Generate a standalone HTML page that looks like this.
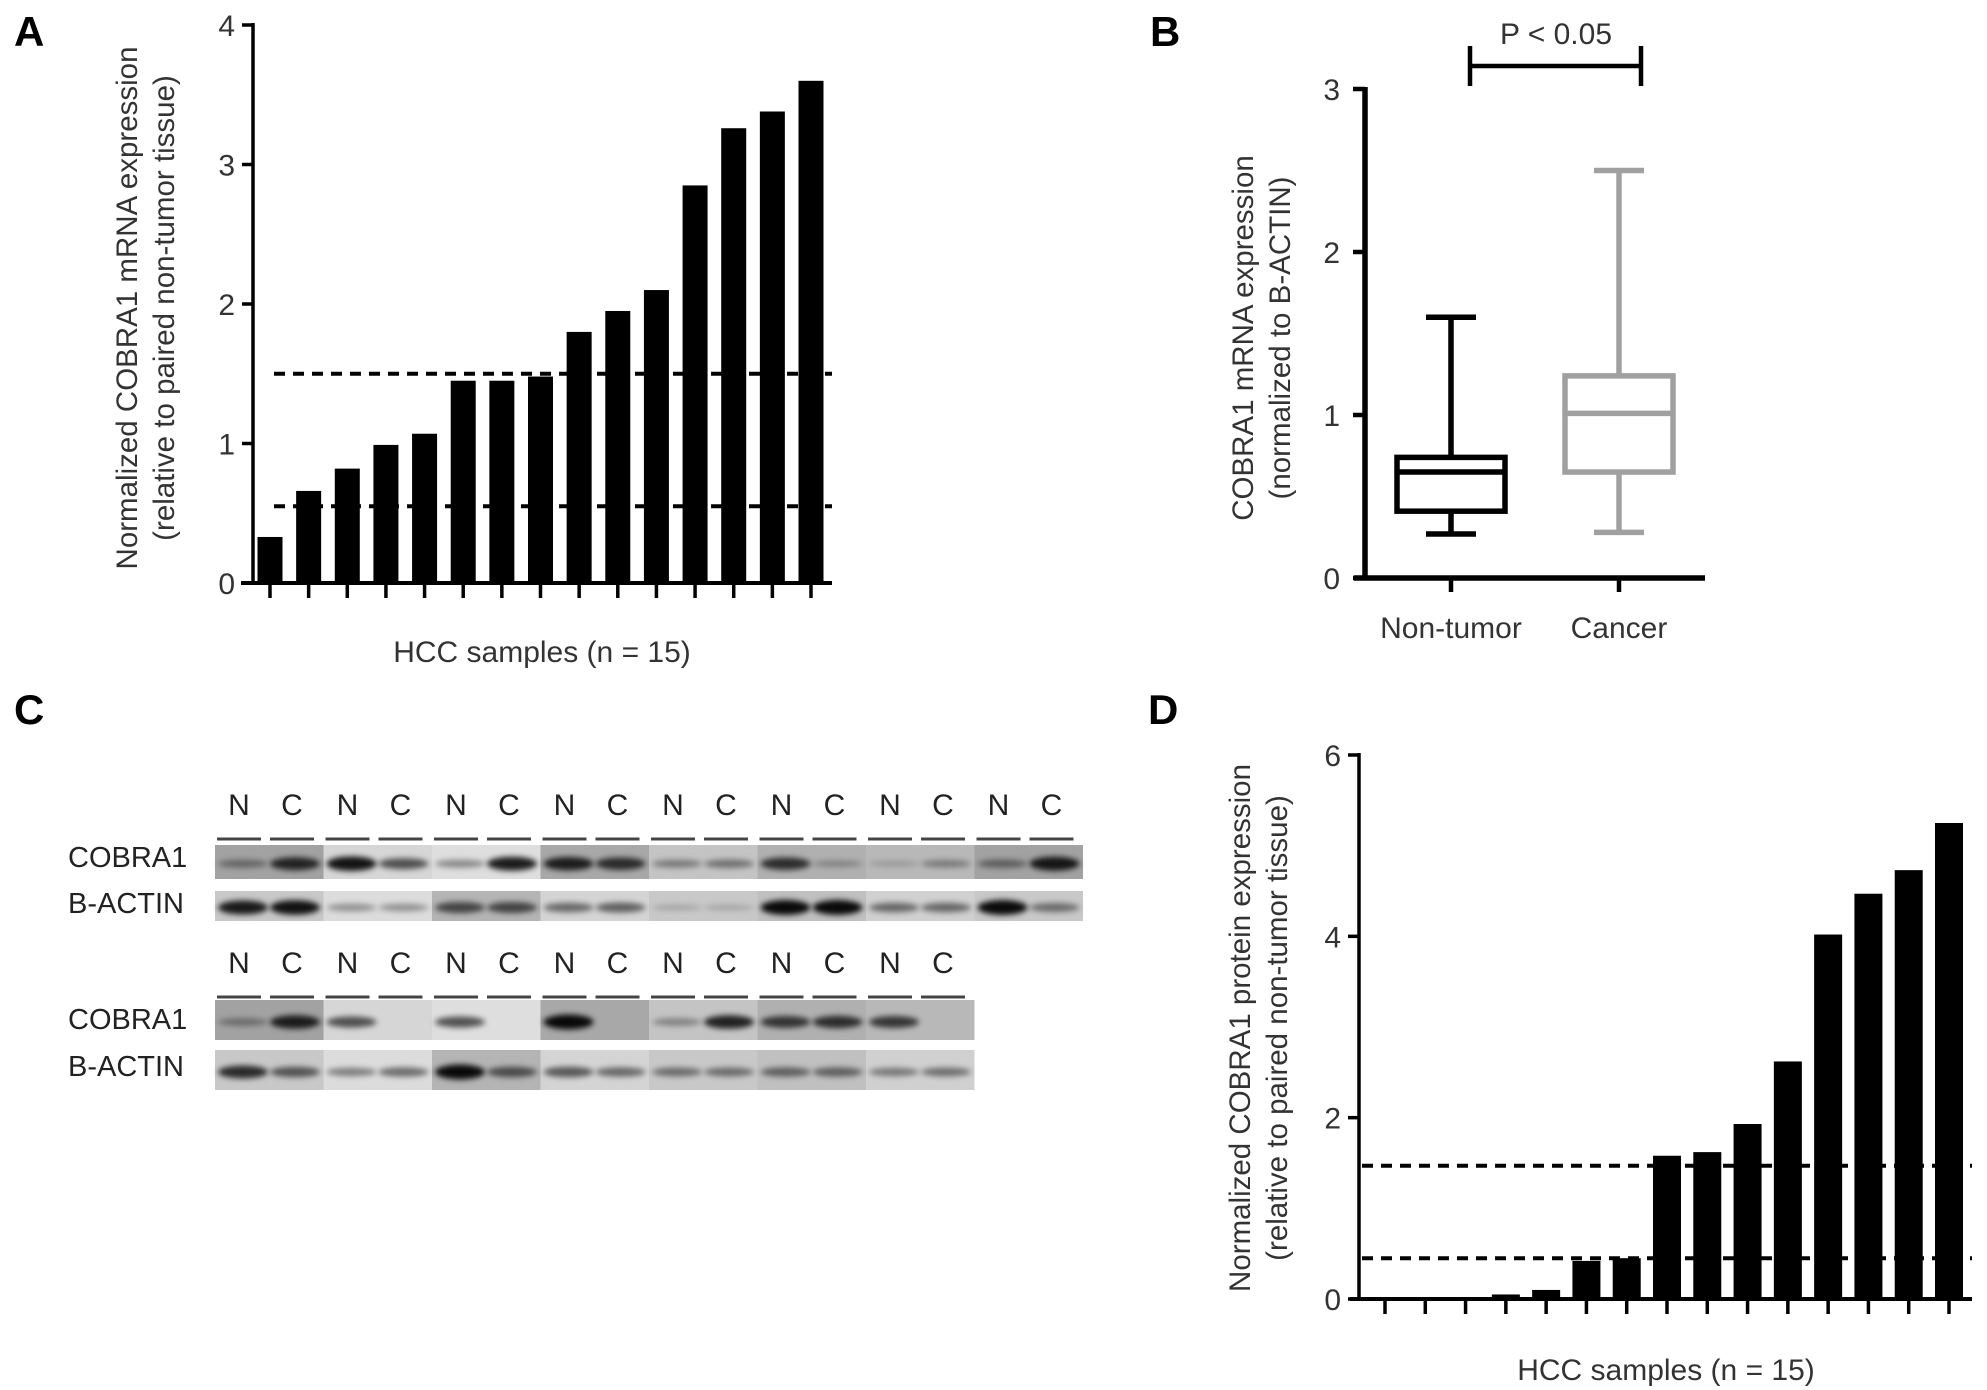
<!DOCTYPE html>
<html><head><meta charset="utf-8">
<style>
html,body{margin:0;padding:0;background:#fff;}
svg{display:block;font-family:"Liberation Sans",Arial,sans-serif;}
</style></head>
<body>
<svg id="fig" width="1987" height="1390" viewBox="0 0 1987 1390" xmlns="http://www.w3.org/2000/svg">
<defs>
<filter id="blur" x="-50%" y="-100%" width="200%" height="300%"><feGaussianBlur stdDeviation="3"/></filter>
</defs>
<g id="panelA"></g>
<g id="panelB"></g>
<g id="panelC"></g>
<g id="panelD"></g>
</svg>
<script>
// ---- data ----
const samplesA = [0.33,0.66,0.82,0.99,1.07,1.45,1.45,1.48,1.80,1.95,2.10,2.85,3.26,3.38,3.60];
const cutoffsA = [1.5,0.55];
const ticksA = [0,1,2,3,4];
const samplesD = [0.0,0.01,0.02,0.05,0.1,0.42,0.45,1.58,1.62,1.93,2.62,4.02,4.47,4.73,5.25];
const cutoffsD = [1.47,0.45];
const ticksD = [0,2,4,6];
const boxGroups = ["Non-tumor","Cancer"];
const boxMin = [0.27,0.28];
const boxQ1 = [0.41,0.65];
const boxMed = [0.65,1.01];
const boxQ3 = [0.74,1.24];
const boxMax = [1.6,2.5];
const ticksB = [0,1,2,3];
const blotR1Cobra = [0.3,0.8,0.95,0.6,0.3,0.9,0.85,0.75,0.3,0.35,0.75,0.15,0.05,0.25,0.35,0.9];
const blotR1Actin = [0.9,0.95,0.25,0.25,0.6,0.6,0.45,0.5,0.05,0.05,1,1,0.45,0.45,1,0.4];
const blotR2Cobra = [0.25,0.85,0.6,0.0,0.6,0.0,1,0.0,0.25,0.85,0.7,0.75,0.7,0.0];
const blotR2Actin = [0.8,0.55,0.35,0.45,1,0.55,0.55,0.45,0.4,0.4,0.45,0.45,0.35,0.4];
const bgR1Cobra = ["#a2a2a2","#d6d6d6","#dedede","#a8a8a8","#c4c4c4","#b0b0b0","#b8b8b8"];
const bgR1Actin = ["#c8c8c8","#dcdcdc","#b4b4b4","#d4d4d4","#c8c8c8","#c0c0c0","#d0d0d0"];

const NS="http://www.w3.org/2000/svg";
function mk(parent,tag,attrs,text){const e=document.createElementNS(NS,tag);for(const k in attrs)e.setAttribute(k,attrs[k]);if(text!==undefined)e.textContent=text;parent.appendChild(e);return e;}

function barChart(g, cfg, values, cutoffs, ticks){
  const y=v=>cfg.y0-(v/cfg.vmax)*(cfg.y0-cfg.ytop);
  const x=i=>cfg.x0b+i*(cfg.x1b-cfg.x0b)/(values.length-1);
  values.forEach((v,i)=>{
    const r=mk(g,'rect',{x:x(i)-cfg.bw/2,y:y(v),width:cfg.bw,height:cfg.y0-y(v),fill:'#000'});
    
    
    const t=mk(g,'line',{x1:x(i),x2:x(i),y1:cfg.y0,y2:cfg.y0+cfg.tickLen,stroke:'#000','stroke-width':3.5});
    
    
  });
  cutoffs.forEach(c=>{
    const l=mk(g,'line',{x1:cfg.dashX0,x2:cfg.xend,y1:y(c),y2:y(c),stroke:'#000','stroke-width':4,'stroke-dasharray':'11 8'});
    
    
  });
  const ax=mk(g,'line',{x1:cfg.ax,x2:cfg.ax,y1:cfg.ytop-2,y2:cfg.y0+2,stroke:'#000','stroke-width':3.5});
  
  
  const bx=mk(g,'line',{x1:cfg.xstart,x2:cfg.xend,y1:cfg.y0,y2:cfg.y0,stroke:'#000','stroke-width':4});
  
  
  ticks.forEach(tv=>{
    const tl=mk(g,'line',{x1:cfg.ax-11,x2:cfg.ax,y1:y(tv),y2:y(tv),stroke:'#000','stroke-width':3.5});
    
    
    const tt=mk(g,'text',{x:cfg.ax-18,y:y(tv)+11,'text-anchor':'end','font-size':30,fill:'#333'},String(tv));
    
    
  });
}

// Panel A
const gA=document.getElementById('panelA');
mk(gA,'text',{x:14,y:46,'font-size':42,'font-weight':'bold'},'A');
barChart(gA,{ax:253,ytop:25,y0:583,vmax:4,x0b:270,x1b:811,bw:25,xstart:241,xend:832,dashX0:274,tickLen:15},samplesA,cutoffsA,ticksA);
mk(gA,'text',{transform:'translate(137,308) rotate(-90)','text-anchor':'middle','font-size':29.5,fill:'#333'},'Normalized COBRA1 mRNA  expression');
mk(gA,'text',{transform:'translate(174,308) rotate(-90)','text-anchor':'middle','font-size':29.5,fill:'#333'},'(relative to paired non-tumor tissue)');
mk(gA,'text',{x:542,y:662,'text-anchor':'middle','font-size':30,fill:'#333'},'HCC samples (n = 15)');

// Panel D
const gD=document.getElementById('panelD');
mk(gD,'text',{x:1148,y:724,'font-size':42,'font-weight':'bold'},'D');
barChart(gD,{ax:1359,ytop:755,y0:1299,vmax:6,x0b:1385,x1b:1949,bw:28,xstart:1350,xend:1972,dashX0:1362,tickLen:15},samplesD,cutoffsD,ticksD);
mk(gD,'text',{transform:'translate(1250,1028) rotate(-90)','text-anchor':'middle','font-size':29.5,fill:'#333'},'Normalized COBRA1 protein expression');
mk(gD,'text',{transform:'translate(1287,1028) rotate(-90)','text-anchor':'middle','font-size':29.5,fill:'#333'},'(relative to paired non-tumor tissue)');
mk(gD,'text',{x:1666,y:1380,'text-anchor':'middle','font-size':30,fill:'#333'},'HCC samples (n = 15)');

// Panel B
const gB=document.getElementById('panelB');
mk(gB,'text',{x:1150,y:46,'font-size':42,'font-weight':'bold'},'B');
const yB=v=>578-(v/3)*(578-89);
const xB=[1451,1619];
const colB=['#000','#a0a0a0'];
boxGroups.forEach((name,i)=>{
  const g=mk(gB,'g',{});
  
  
  const c=xB[i],st={stroke:colB[i],'stroke-width':5.5,fill:'none'};
  mk(g,'line',Object.assign({x1:c,x2:c,y1:yB(boxMax[i]),y2:yB(boxQ3[i])},st));
  mk(g,'line',Object.assign({x1:c,x2:c,y1:yB(boxQ1[i]),y2:yB(boxMin[i])},st));
  mk(g,'line',Object.assign({x1:c-25,x2:c+25,y1:yB(boxMax[i]),y2:yB(boxMax[i])},st));
  mk(g,'line',Object.assign({x1:c-25,x2:c+25,y1:yB(boxMin[i]),y2:yB(boxMin[i])},st));
  mk(g,'rect',Object.assign({x:c-54,y:yB(boxQ3[i]),width:108,height:yB(boxQ1[i])-yB(boxQ3[i])},st));
  mk(g,'line',Object.assign({x1:c-54,x2:c+54,y1:yB(boxMed[i]),y2:yB(boxMed[i])},st));
  mk(g,'line',{x1:c,x2:c,y1:578,y2:592,stroke:'#000','stroke-width':4.5});
  const lt=mk(gB,'text',{x:c,y:638,'text-anchor':'middle','font-size':30,fill:'#333'},name);
  
  
});
mk(gB,'line',{x1:1365,x2:1365,y1:87,y2:580,stroke:'#000','stroke-width':5.5});
mk(gB,'line',{x1:1354,x2:1705,y1:578,y2:578,stroke:'#000','stroke-width':5.5});
ticksB.forEach(tv=>{
  mk(gB,'line',{x1:1353,x2:1365,y1:yB(tv),y2:yB(tv),stroke:'#000','stroke-width':4.5});
  mk(gB,'text',{x:1340,y:yB(tv)+11,'text-anchor':'end','font-size':30,fill:'#333'},String(tv));
});
mk(gB,'text',{transform:'translate(1253,338) rotate(-90)','text-anchor':'middle','font-size':29.5,fill:'#333'},'COBRA1 mRNA expression');
mk(gB,'text',{transform:'translate(1290,338) rotate(-90)','text-anchor':'middle','font-size':29.5,fill:'#333'},'(normalized to B-ACTIN)');
mk(gB,'path',{d:'M1470 46 V86 M1470 66 H1641 M1641 46 V86',stroke:'#000','stroke-width':4.5,fill:'none'});
mk(gB,'text',{x:1556,y:44,'text-anchor':'middle','font-size':30,fill:'#333'},'P < 0.05');

// Panel C
const gC=document.getElementById('panelC');
mk(gC,'text',{x:14,y:724,'font-size':42,'font-weight':'bold'},'C');
function blotRow(lanes,yTop,h,bgs,name){
  const g=mk(gC,'g',{});
  
  
  const nseg=lanes.length/2;
  for(let s=0;s<nseg;s++){
    mk(g,'rect',{x:215+108.5*s,y:yTop,width:108.5,height:h,fill:bgs[s%bgs.length]});
  }
  lanes.forEach((v,i)=>{
    const s=Math.floor(i/2),cx=215+108.5*s+(i%2?80:28);
    if(v<=0.02)return;
    const b=mk(g,'ellipse',{cx:cx,cy:yTop+h*0.55,rx:25,ry:2.5+5*v,fill:'#000','fill-opacity':Math.min(1,0.15+0.8*v),filter:'url(#blur)'});
    
    
  });
}
function laneLabels(n,y){
  for(let i=0;i<n;i++){
    const s=Math.floor(i/2),cx=215+108.5*s+(i%2?77:24);
    mk(gC,'text',{x:cx,y:y,'text-anchor':'middle','font-size':30,fill:'#222'},i%2?'C':'N');
    mk(gC,'line',{x1:cx-22,x2:cx+22,y1:y+24,y2:y+24,stroke:'#444','stroke-width':3});
  }
}
laneLabels(16,815);
blotRow(blotR1Cobra,845,34,bgR1Cobra,'blot-row1-cobra1');
blotRow(blotR1Actin,891,30,bgR1Actin,'blot-row1-actin');
laneLabels(14,973);
blotRow(blotR2Cobra,1000,40,bgR1Cobra,'blot-row2-cobra1');
blotRow(blotR2Actin,1050,40,bgR1Actin,'blot-row2-actin');
[['COBRA1',867],['B-ACTIN',913],['COBRA1',1029],['B-ACTIN',1076]].forEach(p=>{
  mk(gC,'text',{x:68,y:p[1],'font-size':29,fill:'#222'},p[0]);
});
</script>
</body></html>
